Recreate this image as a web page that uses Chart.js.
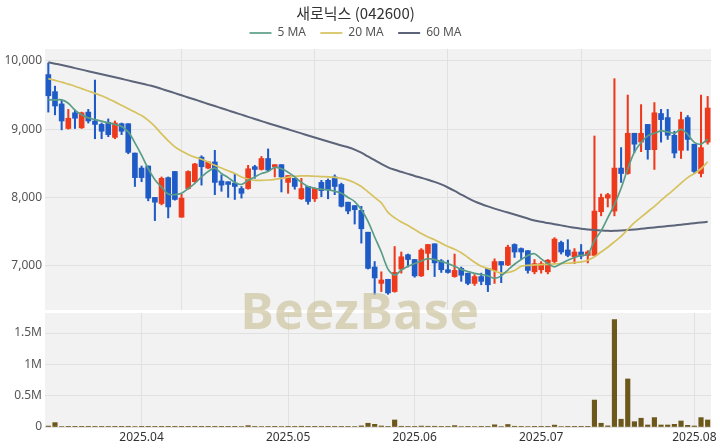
<!DOCTYPE html>
<html>
<head>
<meta charset="utf-8">
<script src="https://cdn.jsdelivr.net/npm/chart.js@4.4.1/dist/chart.umd.min.js"></script>
<style>
  html, body { margin: 0; padding: 0; background: #fff; }
  #wrap { position: relative; width: 720px; height: 448px; overflow: hidden; }
  #price { position: absolute; left: 0; top: 0; }
  #volume { position: absolute; left: 0; top: 311px; }
  #mark {
    position: absolute; left: 0; top: 276px; width: 720px; text-align: center;
    font: bold 50px 'Noto Sans', sans-serif; color: rgba(200, 191, 150, 0.62);
    pointer-events: none; letter-spacing: 0.5px;
  }
</style>
</head>
<body>
<div id="wrap">
  <canvas id="price" width="720" height="311"></canvas>
  <canvas id="volume" width="720" height="137"></canvas>
  <div id="mark">BeezBase</div>
</div>
<script>
(function () {
  // ===== DATA =====
  const DATES = [
    '2025-03-12','2025-03-13','2025-03-14','2025-03-17','2025-03-18','2025-03-19','2025-03-20','2025-03-21','2025-03-24','2025-03-25',
    '2025-03-26','2025-03-27','2025-03-28','2025-03-31','2025-04-01','2025-04-02','2025-04-03','2025-04-04','2025-04-07','2025-04-08',
    '2025-04-09','2025-04-10','2025-04-11','2025-04-14','2025-04-15','2025-04-16','2025-04-17','2025-04-18','2025-04-21','2025-04-22',
    '2025-04-23','2025-04-24','2025-04-25','2025-04-28','2025-04-29','2025-04-30','2025-05-02','2025-05-07','2025-05-08','2025-05-09',
    '2025-05-12','2025-05-13','2025-05-14','2025-05-15','2025-05-16','2025-05-19','2025-05-20','2025-05-21','2025-05-22','2025-05-23',
    '2025-05-26','2025-05-27','2025-05-28','2025-05-29','2025-05-30','2025-06-02','2025-06-04','2025-06-05','2025-06-09','2025-06-10',
    '2025-06-11','2025-06-12','2025-06-13','2025-06-16','2025-06-17','2025-06-18','2025-06-19','2025-06-20','2025-06-23','2025-06-24',
    '2025-06-25','2025-06-26','2025-06-27','2025-06-30','2025-07-01','2025-07-02','2025-07-03','2025-07-04','2025-07-07','2025-07-08',
    '2025-07-09','2025-07-10','2025-07-11','2025-07-14','2025-07-15','2025-07-16','2025-07-17','2025-07-18','2025-07-21','2025-07-22',
    '2025-07-23','2025-07-24','2025-07-25','2025-07-28','2025-07-29','2025-07-30','2025-07-31','2025-08-01','2025-08-04','2025-08-05',
  ];

  const OPEN = [
    9800, 9550, 9370, 9010, 9240, 9020, 9250, 9120, 9070, 9100,
    8880, 9080, 9080, 8650, 8430, 8460, 8000, 7910, 8290, 8380,
    7710, 8130, 8230, 8590, 8430, 8520, 8240, 8230, 8210, 8130,
    8130, 8450, 8410, 8570, 8450, 8480, 8220, 8280, 7980, 8160,
    7980, 8220, 8250, 8300, 8190, 7930, 7880, 7810, 7490, 6980,
    6740, 6800, 6620, 6950, 7160, 7090, 6850, 7180, 7320, 7070,
    6940, 6840, 6960, 6890, 6740, 6840, 6960, 6930, 7060, 7010,
    7310, 7250, 7220, 6910, 6940, 6910, 7060, 7340, 7230, 7130,
    7200, 7150, 7150, 7790, 7990, 7800, 8430, 8350, 8940, 8810,
    9070, 8700, 9230, 9170, 8910, 8690, 9170, 8780, 8350, 8810,
  ];
  const HIGH = [
    9970, 9630, 9430, 9290, 9280, 9250, 9290, 9720, 9090, 9150,
    9120, 9090, 9080, 8650, 8460, 8460, 8000, 8300, 8300, 8380,
    8050, 8390, 8500, 8610, 8520, 8690, 8330, 8230, 8350, 8160,
    8470, 8470, 8600, 8710, 8480, 8480, 8320, 8280, 8280, 8160,
    8140, 8250, 8270, 8330, 8210, 7930, 7880, 7870, 7490, 7060,
    6910, 6800, 7280, 7200, 7170, 7090, 7250, 7310, 7320, 7090,
    7080, 7170, 6980, 6890, 6870, 6890, 6960, 7100, 7060, 7300,
    7320, 7260, 7220, 7090, 7060, 7090, 7410, 7360, 7380, 7250,
    7310, 7220, 8900, 8050, 8060, 9740, 8730, 9500, 8940, 9360,
    9070, 9390, 9290, 9290, 8970, 9250, 9200, 8780, 9500, 9480,
  ];
  const LOW = [
    9250, 9210, 8990, 9000, 9010, 9010, 9090, 8860, 8860, 8890,
    8860, 8920, 8640, 8160, 8230, 7950, 7660, 7890, 7700, 7960,
    7710, 8120, 8220, 8180, 8420, 8040, 8090, 8000, 7970, 7990,
    8120, 8280, 8400, 8380, 8300, 8080, 8060, 8120, 7970, 7900,
    7940, 8010, 7980, 8040, 7860, 7760, 7610, 7330, 6950, 6580,
    6620, 6580, 6610, 6890, 6980, 6830, 6840, 6940, 6840, 6900,
    6890, 6830, 6770, 6720, 6710, 6720, 6620, 6740, 6750, 7000,
    7120, 7090, 6890, 6880, 6890, 6880, 7040, 7170, 7130, 7030,
    7100, 7040, 7150, 7730, 7860, 7730, 8220, 8340, 8660, 8670,
    8560, 8410, 8810, 8850, 8580, 8570, 8690, 8350, 8300, 8780,
  ];
  const CLOSE = [
    9490, 9340, 9120, 9160, 9160, 9240, 9120, 9070, 8970, 8920,
    9090, 8970, 8660, 8290, 8290, 7990, 7930, 8280, 7860, 7970,
    7990, 8380, 8490, 8450, 8520, 8220, 8180, 8190, 8160, 8060,
    8420, 8410, 8570, 8400, 8480, 8300, 8320, 8160, 8130, 7940,
    8130, 8100, 8110, 8160, 7870, 7800, 7820, 7540, 6960, 6820,
    6790, 6600, 6900, 7130, 7090, 6850, 7230, 7310, 7040, 6940,
    6900, 6930, 6860, 6740, 6840, 6770, 6720, 7060, 7010, 7270,
    7200, 7200, 6930, 7030, 7030, 7080, 7390, 7200, 7150, 7200,
    7140, 7200, 7800, 8000, 8040, 8430, 8350, 8940, 8780, 8940,
    8700, 9240, 9140, 8910, 8650, 9140, 8850, 8380, 8730, 9310,
  ];
  const VOLUME = [
    15000, 70000, 8000, 5000, 5000, 4000, 5000, 10000, 10000, 6000,
    4000, 4000, 5000, 8000, 4000, 5000, 6000, 5000, 4000, 5000,
    4000, 3000, 4000, 3000, 3000, 4000, 3000, 3000, 5000, 8000,
    22000, 6000, 8000, 6000, 5000, 8000, 4000, 6000, 12000, 5000,
    4000, 6000, 4000, 6000, 10000, 6000, 8000, 18000, 60000, 43000,
    16000, 10000, 112000, 12000, 6000, 6000, 15000, 12000, 12000, 6000,
    10000, 22000, 8000, 4000, 8000, 4000, 6000, 35000, 8000, 40000,
    12000, 10000, 8000, 5000, 4000, 5000, 30000, 8000, 4000, 4000,
    3000, 4000, 430000, 60000, 18000, 1715000, 124000, 767000, 85000, 140000,
    32000, 150000, 32000, 32000, 43000, 96000, 27000, 16000, 150000, 112000,
  ];
  const MA5 = [
    9429, 9429, 9429, 9380, 9280, 9210, 9165, 9140, 9118, 9093,
    9069, 9040, 8960, 8800, 8620, 8420, 8260, 8150, 8050, 8040,
    8060, 8130, 8206, 8300, 8380, 8430, 8350, 8290, 8220, 8190,
    8250, 8300, 8350, 8380, 8440, 8420, 8370, 8300, 8220, 8160,
    8134, 8120, 8110, 8090, 8060, 8000, 7940, 7820, 7650, 7420,
    7200, 6950, 6860, 6935, 6990, 7031, 7070, 7103, 7089, 7060,
    7031, 6990, 6945, 6915, 6887, 6870, 6850, 6815, 6850, 6935,
    7020, 7089, 7150, 7175, 7100, 7031, 6983, 7030, 7079, 7120,
    7151, 7165, 7367, 7510, 7702, 7895, 8134, 8421, 8662, 8806,
    8902, 8940, 8974, 8960, 8940, 8997, 8925, 8806, 8782, 8853,
  ];
  const MA20 = [
    9741, 9715, 9690, 9660, 9630, 9595, 9560, 9525, 9490, 9445,
    9400, 9350, 9300, 9250, 9200, 9130, 9040, 8930, 8830, 8740,
    8680, 8630, 8590, 8560, 8520, 8470, 8430, 8390, 8350, 8300,
    8270, 8250, 8250, 8255, 8265, 8280, 8295, 8310, 8316, 8316,
    8310, 8305, 8302, 8295, 8280, 8254, 8215, 8160, 8080, 8000,
    7920, 7780, 7700, 7640, 7590, 7530, 7470, 7420, 7380, 7330,
    7280, 7240, 7190, 7120, 7050, 6990, 6960, 6920, 6890, 6900,
    6930, 6990, 7005, 7010, 7015, 7020, 7025, 7030, 7035, 7045,
    7055, 7080, 7130, 7200, 7270, 7350, 7430, 7530, 7630, 7710,
    7790, 7870, 7955, 8040, 8120, 8210, 8290, 8350, 8420, 8520,
  ];
  const MA60 = [
    9981, 9960, 9940, 9918, 9895, 9873, 9850, 9828, 9805, 9782,
    9760, 9738, 9715, 9692, 9670, 9646, 9622, 9590, 9560, 9528,
    9497, 9465, 9434, 9402, 9370, 9339, 9307, 9276, 9244, 9213,
    9181, 9150, 9118, 9088, 9058, 9028, 8998, 8968, 8938, 8908,
    8878, 8848, 8819, 8790, 8760, 8735, 8700, 8655, 8600, 8545,
    8490, 8440, 8405, 8375, 8345, 8315, 8288, 8260, 8228, 8190,
    8145, 8095, 8042, 7990, 7942, 7903, 7868, 7836, 7806, 7778,
    7750, 7720, 7690, 7662, 7642, 7625, 7608, 7590, 7572, 7555,
    7540, 7530, 7522, 7515, 7510, 7510, 7515, 7522, 7530, 7540,
    7550, 7560, 7570, 7580, 7590, 7600, 7612, 7622, 7632, 7642,
  ];
  const PRICE_TICKS = [7000, 8000, 9000, 10000];
  const VOLUME_TICKS = [0, 500000, 1000000, 1500000];

  // ===== STYLE =====
  const UP = '#ee3a1c';
  const DOWN = '#1f5bc6';
  const GRID = '#e1e1e1';
  const FONT = "'Noto Sans', 'Noto Sans CJK KR', sans-serif";
  const candleColors = CLOSE.map((c, i) => (c >= OPEN[i] ? UP : DOWN));
  const isMonthStart = i => i > 0 && DATES[i].slice(0, 7) !== DATES[i - 1].slice(0, 7);

  const plotBg = {
    id: 'plotBg',
    beforeDraw(chart) {
      const { ctx, chartArea: a } = chart;
      ctx.save();
      ctx.fillStyle = '#f2f2f2';
      ctx.fillRect(a.left, a.top, a.right - a.left, a.bottom - a.top);
      ctx.restore();
    },
  };

  // y axes: fixed width, no extra label padding above/below the plot
  const fitY = s => { s.width = 45; s.paddingTop = 0; s.paddingBottom = 0; };

  Chart.defaults.font.family = FONT;
  Chart.defaults.animation = false;

  // ===== PRICE CHART =====
  new Chart(document.getElementById('price'), {
    type: 'bar',
    data: {
      labels: DATES,
      datasets: [
        { type: 'line', label: '5 MA', data: MA5, borderColor: '#5a9d87', backgroundColor: '#5a9d87',
          borderWidth: 1.7, pointRadius: 0, tension: 0.3, order: 0 },
        { type: 'line', label: '20 MA', data: MA20, borderColor: '#d6c25e', backgroundColor: '#d6c25e',
          borderWidth: 1.7, pointRadius: 0, tension: 0.3, order: 0 },
        { type: 'line', label: '60 MA', data: MA60, borderColor: '#5b6479', backgroundColor: '#5b6479',
          borderWidth: 2, pointRadius: 0, tension: 0.3, order: 0 },
        { label: 'body', data: OPEN.map((o, i) => [o, CLOSE[i]]), backgroundColor: candleColors,
          barThickness: 5, grouped: false, order: 1 },
        { label: 'wick', data: LOW.map((l, i) => [l, HIGH[i]]), backgroundColor: candleColors,
          barThickness: 1.4, grouped: false, order: 2 },
      ],
    },
    options: {
      responsive: false,
      layout: { padding: { left: 0, right: 9, top: 0, bottom: 1 } },
      plugins: {
        title: {
          display: true, text: '새로닉스 (042600)', color: '#333',
          font: { size: 15, weight: 'normal', family: "'Noto Sans CJK KR', 'Noto Sans', sans-serif" },
          padding: { top: 4, bottom: 0 },
        },
        legend: {
          display: true,
          labels: {
            usePointStyle: true, pointStyle: 'line', pointStyleWidth: 22,
            color: '#555', font: { size: 12 }, padding: 5, boxHeight: 8,
            // only the MA lines; a little extra room after each label
            generateLabels: chart => Chart.defaults.plugins.legend.labels.generateLabels(chart)
              .filter(item => item.datasetIndex < 3)
              .map(item => ({ ...item, text: item.datasetIndex < 2 ? item.text + '   ' : item.text })),
          },
        },
        tooltip: { enabled: false },
      },
      scales: {
        x: {
          afterFit: s => { s.height = 0; },
          grid: {
            offset: false, drawTicks: false,
            color: ctx => (ctx.index > 0 && ctx.index % 20 === 0 ? GRID : 'rgba(0,0,0,0)'),
          },
          border: { display: false },
          ticks: { display: false, autoSkip: false },
        },
        y: {
          min: 6350, max: 10175,
          afterBuildTicks: s => { s.ticks = PRICE_TICKS.map(v => ({ value: v })); },
          afterFit: fitY,
          grid: { color: GRID, drawTicks: false },
          border: { display: false },
          ticks: { color: '#555', font: { size: 12 }, padding: 3, callback: v => v.toLocaleString('en-US') },
        },
      },
    },
    plugins: [plotBg],
  });

  // ===== VOLUME CHART =====
  new Chart(document.getElementById('volume'), {
    type: 'bar',
    data: {
      labels: DATES,
      datasets: [
        { label: 'Volume', data: VOLUME, backgroundColor: '#6d581c', barThickness: 4.5 },
      ],
    },
    options: {
      responsive: false,
      layout: { padding: { left: 0, right: 9, top: 2, bottom: 0 } },
      plugins: { legend: { display: false }, tooltip: { enabled: false } },
      scales: {
        x: {
          afterFit: s => { s.height = 21; },
          grid: {
            offset: false, drawTicks: false,
            color: ctx => (isMonthStart(ctx.index) ? GRID : 'rgba(0,0,0,0)'),
          },
          border: { display: false },
          ticks: {
            autoSkip: false, maxRotation: 0, color: '#333', font: { size: 12 }, padding: 3,
            callback: (v, i) => (isMonthStart(i) ? DATES[i].slice(0, 7).replace('-', '.') : ''),
          },
        },
        y: {
          min: 0, max: 1820000,
          afterBuildTicks: s => { s.ticks = VOLUME_TICKS.map(v => ({ value: v })); },
          afterFit: fitY,
          grid: { color: GRID, drawTicks: false },
          border: { display: false },
          ticks: { color: '#555', font: { size: 12 }, padding: 3, callback: v => (v === 0 ? '0' : v / 1e6 + 'M') },
        },
      },
    },
    plugins: [plotBg],
  });
})();
</script>
</body>
</html>
